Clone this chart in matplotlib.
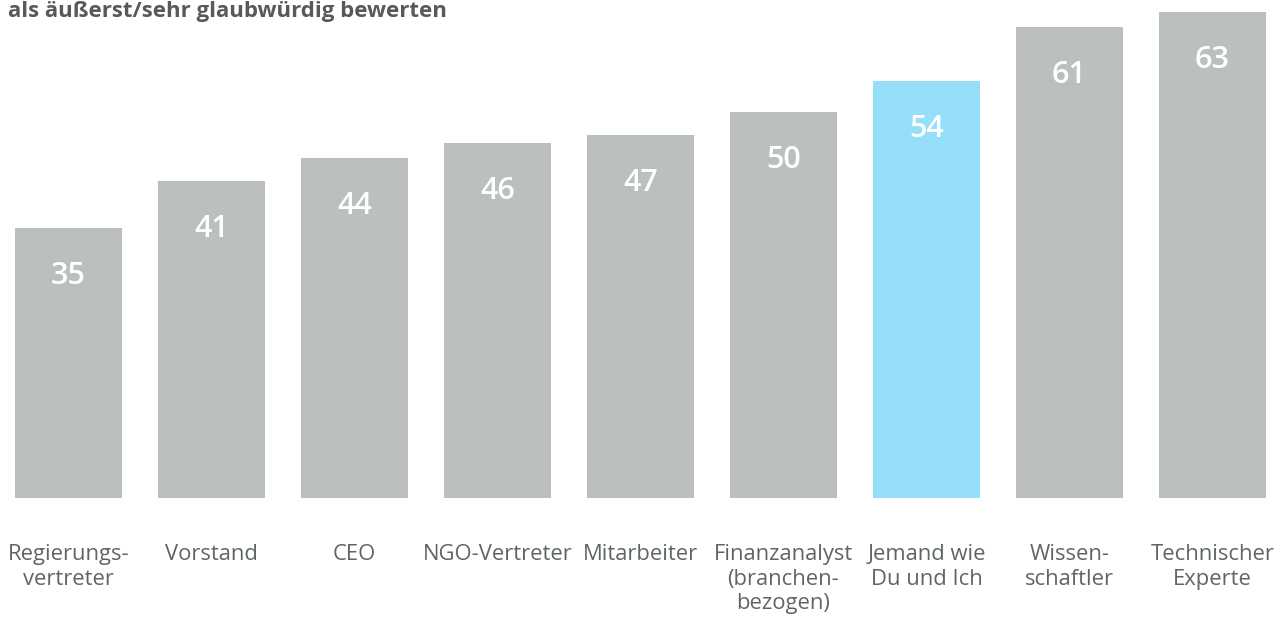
import numpy as np
import matplotlib.pyplot as plt

categories = ["Regierungs-\nvertreter", "Vorstand", "CEO", "NGO-Vertreter", "Mitarbeiter",
              "Finanzanalyst\n(branchen-\nbezogen)", "Jemand wie\nDu und Ich", "Wissen-\nschaftler",
              "Technischer\nExperte"]
values = [35, 41, 44, 46, 47, 50, 54, 61, 63]
highlight = "Jemand wie\nDu und Ich"

grey = "#bcbfc0"
blue = "#96dffb"
text_col = "#5f6566"

plt.rcParams['font.family'] = ['Open Sans', 'DejaVu Sans']

fig = plt.figure(figsize=(12.83, 6.17), dpi=100)
ax = fig.add_axes([0, 1 - 498 / 617, 1, 498 / 617])

x = np.arange(len(categories))
colors = [blue if c == highlight else grey for c in categories]
ax.bar(x, values, width=0.748, color=colors)

for xi, v in zip(x, values):
    ax.annotate(str(v), (xi, v), xytext=(0, -48), textcoords="offset pixels",
                ha="center", va="center", color="white", fontsize=22, fontweight="semibold")

for xi, c in zip(x, categories):
    ax.annotate(c, (xi, 0), xytext=(0, -46), textcoords="offset pixels",
                ha="center", va="top", color=text_col, fontsize=15.8, linespacing=1.22,
                annotation_clip=False)

ax.set_xlim(-68.5 / 143, (1283 - 68.5) / 143)
ax.set_ylim(0, 498 / 7.72)
ax.axis("off")

fig.text(8 / 1283, 1 - 16.5 / 617, "als äußerst/sehr glaubwürdig bewerten", ha="left",
         va="baseline", fontsize=16, fontweight="bold", color="#58595b")

fig.savefig("out.png", dpi=100)
